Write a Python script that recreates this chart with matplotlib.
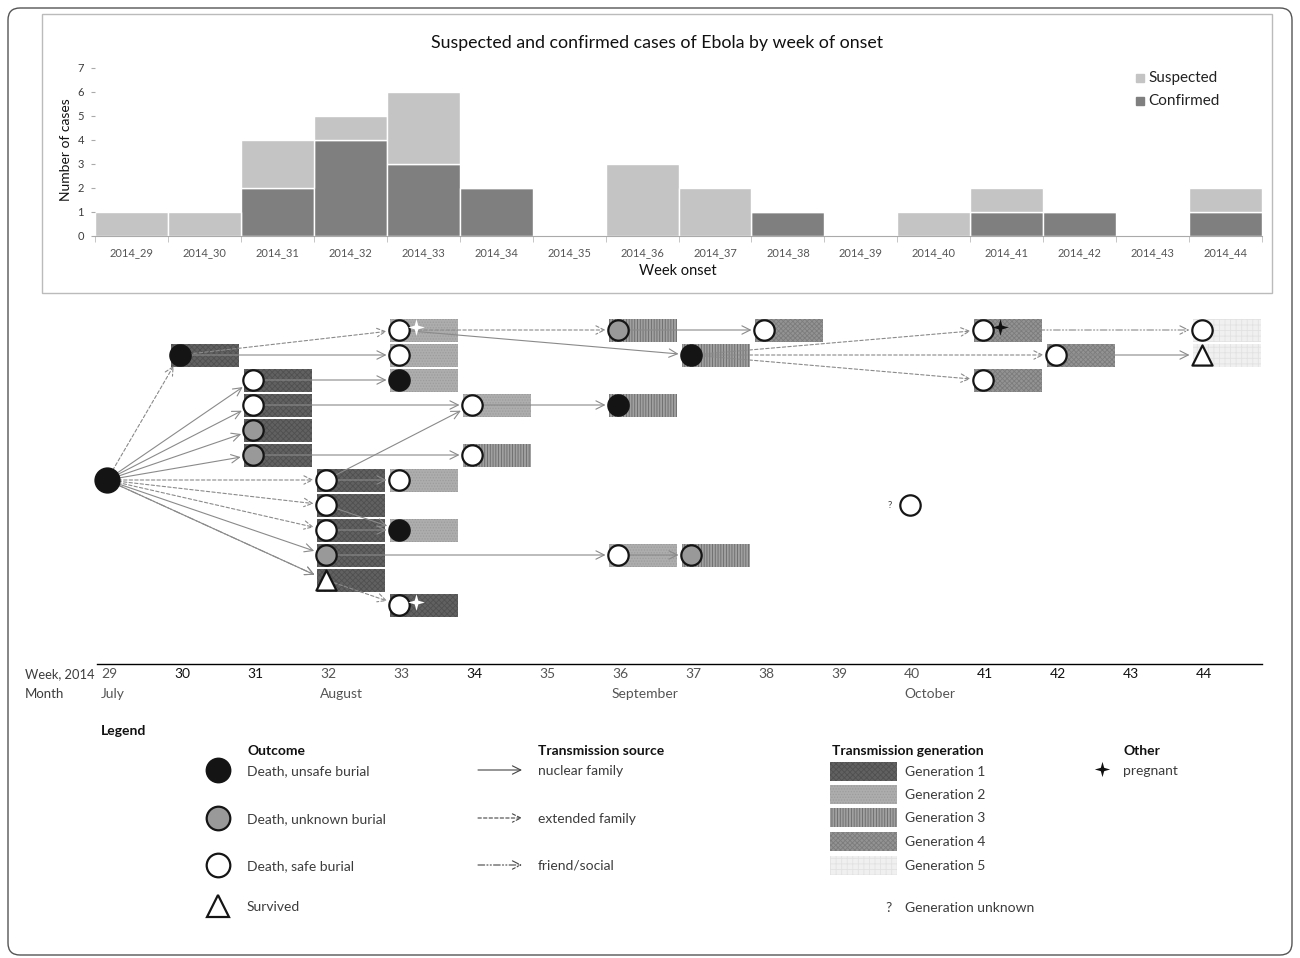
import matplotlib.pyplot as plt
from matplotlib.patches import Rectangle, FancyBboxPatch, FancyArrowPatch
from matplotlib.transforms import Affine2D

plt.rcParams['font.family'] = ['Lato', 'DejaVu Sans']
plt.rcParams['hatch.linewidth'] = 0.6

W, H = 1300, 958

# epidemic curve (top panel)
weeks = list(range(29, 45))
week_labels = ["2014_%d" % w for w in weeks]
confirmed = [0, 0, 2, 4, 3, 2, 0, 0, 0, 1, 0, 0, 1, 1, 0, 1]
suspected = [1, 1, 2, 1, 3, 0, 0, 3, 2, 0, 0, 1, 1, 0, 0, 1]

# transmission chain: one entry per case
case_week = [29, 30, 31, 31, 31, 31, 32, 32, 32, 32, 32, 33, 33, 33, 33, 33, 33,
             34, 34, 36, 36, 36, 37, 37, 38, 40, 41, 41, 42, 44, 44]
case_row = [6, 1, 2, 3, 4, 5, 6, 7, 8, 9, 10, 0, 1, 2, 6, 8, 11,
            3, 5, 0, 3, 9, 1, 9, 0, 7, 0, 2, 1, 0, 1]
case_outcome = ["unsafe", "unsafe", "safe", "safe", "unknown", "unknown",
                "safe", "safe", "safe", "unknown", "survived",
                "safe", "safe", "unsafe", "safe", "unsafe", "safe",
                "safe", "safe", "unknown", "unsafe", "safe", "unsafe", "unknown",
                "safe", "safe", "safe", "safe", "safe", "safe", "survived"]
# 0 = index case, None = generation unknown
case_gen = [0, 1, 1, 1, 1, 1, 1, 1, 1, 1, 1, 2, 2, 2, 2, 2, 1,
            2, 3, 3, 3, 2, 3, 3, 4, None, 4, 4, 4, 5, 5]
pregnant_cases = [11, 16, 26]
pregnant_color = ["white", "white", "#111111"]

edge_src = [0, 0, 0, 0, 0, 0, 0, 0, 0, 0, 0, 1, 1, 2, 3, 5, 6, 6, 7, 8, 9, 10,
            11, 11, 17, 19, 21, 22, 22, 22, 26, 28]
edge_dst = [1, 2, 3, 4, 5, 6, 7, 8, 9, 10, 10, 11, 12, 13, 17, 18, 17, 14, 15, 15, 21, 16,
            19, 22, 20, 24, 23, 26, 28, 27, 29, 30]
edge_type = ["extended", "nuclear", "nuclear", "nuclear", "nuclear", "extended", "extended",
             "extended", "nuclear", "nuclear", "social", "extended", "nuclear", "nuclear",
             "nuclear", "nuclear", "nuclear", "nuclear", "nuclear", "nuclear", "nuclear",
             "extended", "extended", "nuclear", "nuclear", "nuclear", "nuclear", "extended",
             "extended", "extended", "social", "nuclear"]

months = ["July", "August", "September", "October"]
month_weeks = [29, 32, 36, 40]

outcome_face = {"unsafe": "#141414", "unknown": "#999999", "safe": "white", "survived": "white"}
outcome_labels = ["Death, unsafe burial", "Death, unknown burial", "Death, safe burial", "Survived"]
outcome_keys = ["unsafe", "unknown", "safe", "survived"]
source_labels = ["nuclear family", "extended family", "friend/social"]
source_keys = ["nuclear", "extended", "social"]
line_styles = {"nuclear": "-", "extended": (0, (3, 2)), "social": (0, (6, 2, 1, 2, 1, 2))}

gen_face = {1: "#616161", 2: "#adadad", 3: "#a0a0a0", 4: "#939393", 5: "#f0f0f0"}
gen_hatch = {1: "xxxxxx", 2: "......", 3: "||||||", 4: "xxxxxxx", 5: "+++"}
gen_hcol = {1: "#505050", 2: "#9c9c9c", 3: "#6a6a6a", 4: "#7c7c7c", 5: "#e2e2e2"}

star = [(0, 1), (0.22, 0.22), (1, 0), (0.22, -0.22), (0, -1), (-0.22, -0.22), (-1, 0), (-0.22, 0.22)]

TXT = "#3c3c3c"

fig = plt.figure(figsize=(W / 100, H / 100), dpi=100)
# pixel coordinates, origin top left
pix = Affine2D().scale(1 / W, -1 / H).translate(0, 1) + fig.transFigure

# outer frame
fig.add_artist(FancyBboxPatch((8, 8), 1284, 947, boxstyle="round,pad=0,rounding_size=12",
                              transform=pix, fill=False, edgecolor="#555555", lw=1))

# ---------------- diagram (week / row coordinates) ----------------
ax = fig.add_axes([0, 0, 1, 1])
ax.set_xlim(29 - 98 / 73, 29 + (W - 98) / 73)
ax.set_ylim((H - 330) / 25, -330 / 25)
ax.axis("off")

BOX_W = 68 / 73
BOX_H = 23 / 25
CX = 9 / 73


def wx(p):
    return 29 + (p - 98) / 73


def ry(p):
    return (p - 330) / 25


for w, r, g in zip(case_week, case_row, case_gen):
    if g:
        ax.add_patch(Rectangle((w, r - BOX_H / 2), BOX_W, BOX_H, facecolor=gen_face[g],
                               edgecolor=gen_hcol[g], hatch=gen_hatch[g], lw=0, zorder=1))

for s, d, t in zip(edge_src, edge_dst, edge_type):
    p0 = (case_week[s] + CX, case_row[s])
    p1 = (case_week[d] + CX, case_row[d])
    ax.add_patch(FancyArrowPatch(p0, p1, arrowstyle="->,head_length=0.6,head_width=0.3",
                                 mutation_scale=10, shrinkA=8 if s == 0 else 6, shrinkB=9,
                                 color="#8a8a8a", lw=0.8, linestyle=line_styles[t], zorder=2))

for i, (w, r, o) in enumerate(zip(case_week, case_row, case_outcome)):
    size = 300 if case_gen[i] == 0 else 215
    mk = "^" if o == "survived" else "o"
    if mk == "^":
        size = 210
    ax.scatter(w + CX, r, s=size, marker=mk, facecolor=outcome_face[o],
               edgecolor="#151515", lw=1.6, zorder=3)
    if case_gen[i] is None:
        ax.text(w + CX - 20 / 73, r, "?", fontsize=7, color=TXT, ha="center", va="center")

for i, c in zip(pregnant_cases, pregnant_color):
    ax.plot(case_week[i] + CX + 17 / 73, case_row[i] - 0.14, marker=star, ms=12,
            color=c, mew=0, zorder=4)

# week / month axis
ax.plot([wx(97), wx(1262)], [ry(664), ry(664)], color="black", lw=1)
ax.text(wx(25), ry(674), "Week, 2014", fontsize=9.3, color=TXT, va="center")
ax.text(wx(25), ry(694), "Month", fontsize=9.5, color=TXT, va="center")
dark_weeks = [30, 31, 34, 41, 42, 43, 44]
for w in weeks:
    ax.text(w + 3 / 73, ry(674), str(w), fontsize=10, va="center",
            color="#111111" if w in dark_weeks else "#555555")
for m, w in zip(months, month_weeks):
    ax.text(w + 3 / 73, ry(694), m, fontsize=10, va="center", color="#555555")

# ---------------- legend (pixel coordinates) ----------------
def ptxt(x, y, s, bold=False, **kw):
    fig.text(x / W, 1 - y / H, s, fontsize=10, va="center",
             color="#111111" if bold else TXT, fontweight="bold" if bold else "normal", **kw)


ptxt(101, 731, "Legend", bold=True)
ptxt(247, 751, "Outcome", bold=True)
for key, lab, y in zip(outcome_keys, outcome_labels, [770, 818, 865, 906]):
    mk = "^" if key == "survived" else "o"
    ax.plot(218, y, marker=mk, ms=17 if mk == "o" else 16, mfc=outcome_face[key], mec="#151515",
            mew=1.6, transform=pix)
    ptxt(247, y + 1, lab)

ptxt(538, 751, "Transmission source", bold=True)
for key, lab, y in zip(source_keys, source_labels, [770, 818, 865]):
    fig.add_artist(FancyArrowPatch((478, y), (522, y), transform=pix,
                                   arrowstyle="->,head_length=0.6,head_width=0.3",
                                   mutation_scale=10, shrinkA=0, shrinkB=0, color="#444444",
                                   lw=0.8, linestyle=line_styles[key]))
    ptxt(538, y + 1, lab)

ptxt(832, 751, "Transmission generation", bold=True)
for g, y in zip([1, 2, 3, 4, 5], [772, 795, 818, 842, 866]):
    fig.add_artist(Rectangle((830, y - 10), 67, 19, transform=pix, facecolor=gen_face[g],
                             edgecolor=gen_hcol[g], hatch=gen_hatch[g], lw=0))
    ptxt(905, y, "Generation %d" % g)
ptxt(889, 908, "?", ha="center")
ptxt(905, 908, "Generation unknown")

ptxt(1123, 751, "Other", bold=True)
ax.plot(1102, 769, marker=star, ms=11, color="#111111", mew=0, transform=pix)
ptxt(1123, 771, "pregnant")

# ---------------- epidemic curve ----------------
fig.add_artist(Rectangle((42, 14), 1230, 279, transform=pix, fill=False,
                         edgecolor="#bbbbbb", lw=1))
bax = fig.add_axes([95 / W, 1 - 236 / H, (1262 - 95) / W, (236 - 68) / H])
x = list(range(len(weeks)))
bax.bar(x, confirmed, width=1, color="#7f7f7f", edgecolor="white", lw=1, label="Confirmed")
bax.bar(x, suspected, bottom=confirmed, width=1, color="#c4c4c4", edgecolor="white", lw=1,
        label="Suspected")
bax.set_xlim(-0.5, len(weeks) - 0.5)
bax.set_ylim(0, 7)
bax.set_yticks(range(8))
bax.set_xticks(x, week_labels)
bax.set_xticks([i - 0.5 for i in range(len(weeks) + 1)], minor=True)
bax.tick_params(axis="y", length=3, pad=5, color="#aaaaaa", labelsize=8, labelcolor=TXT)
bax.tick_params(axis="x", which="major", length=0, pad=8, labelsize=8, labelcolor="#555555")
bax.tick_params(axis="x", which="minor", length=4, color="#bbbbbb")
for sp in ["left", "top", "right"]:
    bax.spines[sp].set_visible(False)
bax.spines["bottom"].set_color("#aaaaaa")
bax.patch.set_alpha(0)

fig.text(657 / W, 1 - 43 / H, "Suspected and confirmed cases of Ebola by week of onset",
         fontsize=12.8, ha="center", va="center", color="#111111")
fig.text(66 / W, 1 - 150 / H, "Number of cases", rotation=90, fontsize=10,
         ha="center", va="center", color="#111111")
fig.text(678 / W, 1 - 271 / H, "Week onset", fontsize=10.5, ha="center", va="center",
         color="#111111")
for lab, col, y in zip(["Suspected", "Confirmed"], ["#c4c4c4", "#7f7f7f"], [78, 101]):
    fig.add_artist(Rectangle((1136, y - 4), 8, 8, transform=pix, color=col))
    fig.text(1148 / W, 1 - y / H, lab, fontsize=11, va="center", color="#222222")

fig.savefig("out.png", dpi=100)
